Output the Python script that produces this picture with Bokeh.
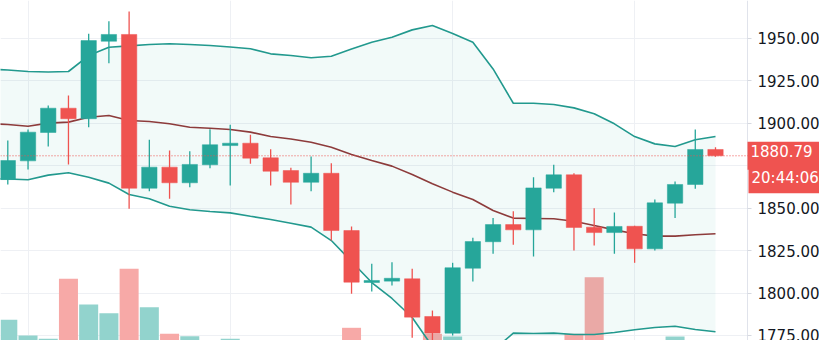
from bokeh.plotting import figure
from bokeh.models import (Range1d, SingleIntervalTicker, FixedTicker, PrintfTickFormatter,
                          Span, Label, Grid, ColumnDataSource, LinearAxis, BoxAnnotation)
from bokeh.embed import file_html
from bokeh.resources import INLINE

# ---------------- data ----------------
bar_index = list(range(36))
opens  = [1866.8, 1877.8, 1894.5, 1908.8, 1902.6, 1948.2, 1952.2, 1861.7, 1874.1, 1864.9,
          1875.5, 1886.8, 1888.2, 1879.6, 1872.1, 1865.2, 1870.5, 1836.8, 1806.2, 1807.0,
          1808.4, 1786.2, 1776.4, 1814.6, 1830.2, 1840.3, 1837.2, 1861.7, 1869.6, 1838.8,
          1835.6, 1839.3, 1826.0, 1852.9, 1863.9, 1884.5]
highs  = [1889.8, 1896.3, 1910.4, 1916.3, 1952.6, 1960.0, 1965.7, 1890.2, 1883.9, 1883.5,
          1896.4, 1899.0, 1893.1, 1884.7, 1873.7, 1880.4, 1876.4, 1839.2, 1817.2, 1818.2,
          1814.3, 1789.7, 1817.8, 1832.5, 1844.1, 1848.2, 1868.2, 1875.5, 1870.5, 1849.9,
          1847.4, 1839.6, 1855.1, 1865.7, 1896.3, 1885.8]
lows   = [1863.9, 1872.7, 1886.3, 1875.7, 1897.6, 1935.3, 1849.6, 1859.9, 1855.5, 1862.3,
          1873.5, 1863.3, 1876.1, 1863.3, 1852.1, 1859.9, 1830.9, 1799.6, 1800.9, 1804.4,
          1773.7, 1770.5, 1775.0, 1806.8, 1823.1, 1828.4, 1821.5, 1859.4, 1825.0, 1828.0,
          1823.1, 1817.8, 1825.0, 1844.1, 1861.4, 1880.2]
closes = [1878.0, 1894.7, 1908.8, 1902.6, 1948.6, 1952.2, 1861.7, 1874.1, 1864.9, 1875.7,
          1887.3, 1888.2, 1879.4, 1871.7, 1865.2, 1870.5, 1836.8, 1806.4, 1807.4, 1808.7,
          1785.8, 1776.4, 1814.9, 1830.3, 1840.3, 1837.2, 1861.9, 1869.6, 1838.6, 1835.6,
          1839.2, 1826.0, 1853.1, 1863.9, 1884.5, 1880.79]
volumes = [2070, 500, 170, 6170, 3600, 2730, 7170, 3330, 670, 430,
           0, 170, 0, 0, 0, 0, 0, 1270, 0, 0,
           0, 670, 400, 0, 0, 0, 0, 0, 670, 6330,
           0, 0, 0, 400, 0, 0]

band_index = list(range(-1, 36))
bb_upper = [1931.9, 1931.3, 1930.4, 1930.1, 1930.4, 1939.8, 1944.7, 1945.5, 1946.3, 1946.7,
            1946.3, 1945.7, 1944.8, 1943.8, 1940.8, 1939.8, 1938.5, 1939.4, 1943.6, 1947.6,
            1950.6, 1954.9, 1957.5, 1952.8, 1947.6, 1931.9, 1911.7, 1911.7, 1911.0, 1909.0,
            1905.5, 1899.6, 1892.1, 1887.8, 1886.3, 1890.2, 1892.1]
bb_basis = [1899.8, 1899.2, 1898.2, 1900.0, 1900.6, 1903.5, 1904.5, 1901.6, 1901.0, 1899.6,
            1897.6, 1897.0, 1896.3, 1894.7, 1892.1, 1890.7, 1888.8, 1885.8, 1881.5, 1878.0,
            1874.7, 1869.8, 1864.3, 1859.4, 1855.1, 1848.6, 1844.1, 1843.9, 1843.7, 1842.3,
            1839.8, 1837.2, 1834.9, 1833.5, 1833.5, 1834.3, 1834.9]
bb_lower = [1867.4, 1867.1, 1866.7, 1869.4, 1870.8, 1868.2, 1864.7, 1858.0, 1855.5, 1851.1,
            1849.0, 1848.0, 1847.2, 1845.2, 1843.3, 1841.1, 1838.8, 1830.9, 1818.6, 1806.2,
            1796.8, 1785.6, 1768.5, 1761.5, 1760.3, 1766.2, 1776.4, 1776.2, 1776.4, 1775.6,
            1775.6, 1776.8, 1778.4, 1779.7, 1780.5, 1778.5, 1777.2]

last_price = 1880.79
last_price_text = "1880.79"
countdown_text = "20:44:06"
time_grid_bars = [1, 11, 22, 31]

UP = "#26a69a"
DOWN = "#ef5350"
UP_VOL = "#92d3cd"
DOWN_VOL = "#f7a9a7"
BAND = "#22998e"
BASIS = "#8d3b3b"
GRID = "#eef0f4"

# ---------------- figure ----------------
W, H = 819, 340
BAR_PX = 20.22
x0 = -0.361
axis_x = x0 + 747 / BAR_PX          # price scale sits at pixel 747
p = figure(width=W, height=H,
           x_range=Range1d(x0, x0 + W / BAR_PX),
           y_range=Range1d(1772.07, 1972.19),
           x_axis_location=None, y_axis_location=None,
           output_backend="svg", toolbar_location=None,
           min_border=0, background_fill_color="white", border_fill_color="white")
p.outline_line_color = None
p.xgrid.visible = False
p.ygrid.visible = False
p.add_layout(Grid(dimension=1, ticker=SingleIntervalTicker(interval=25, num_minor_ticks=0),
                  grid_line_color=GRID))
p.add_layout(Grid(dimension=0, ticker=FixedTicker(ticks=time_grid_bars),
                  grid_line_color=GRID))

ax = LinearAxis(fixed_location=axis_x,
                ticker=SingleIntervalTicker(interval=25, num_minor_ticks=0),
                formatter=PrintfTickFormatter(format="%.2f"))
ax.major_label_text_font = "DejaVu Sans"
ax.major_label_text_font_size = "15px"
ax.major_label_text_color = "#131722"
ax.axis_line_color = "#e0e3eb"
ax.major_tick_line_color = "#d6d9e0"
ax.major_tick_in = 0
ax.major_tick_out = 4
ax.minor_tick_line_color = None
ax.major_label_standoff = 6
p.add_layout(ax, "right")

# volume (own scale, bottom of pane)
p.extra_y_ranges = {"vol": Range1d(0, 34000)}
vol_colors = [UP_VOL if c >= o else DOWN_VOL for o, c in zip(opens, closes)]
p.vbar(x=bar_index, top=volumes, bottom=0, width=0.94, y_range_name="vol",
       fill_color=vol_colors, line_color=None)

# bollinger bands
p.varea(x=band_index, y1=bb_lower, y2=bb_upper, fill_color=UP, fill_alpha=0.06)
p.line(band_index, bb_upper, line_color=BAND, line_width=1.6)
p.line(band_index, bb_lower, line_color=BAND, line_width=1.6)
p.line(band_index, bb_basis, line_color=BASIS, line_width=1.6)

# candles
colors = [UP if c >= o else DOWN for o, c in zip(opens, closes)]
src = ColumnDataSource(dict(
    x=bar_index, high=highs, low=lows,
    top=[max(o, c) for o, c in zip(opens, closes)],
    bottom=[min(o, c) for o, c in zip(opens, closes)],
    color=colors))
p.segment(x0="x", y0="low", x1="x", y1="high", line_color="color", line_width=1.3, source=src)
p.vbar(x="x", top="top", bottom="bottom", width=0.76, fill_color="color",
       line_color="color", line_width=0.5, source=src)

# blank price-scale strip (keeps grid lines out of it)
p.add_layout(BoxAnnotation(left=axis_x, fill_color="white", fill_alpha=1.0,
                           line_color=None, level="glyph"))

# last price line and labels
p.add_layout(Span(location=last_price, dimension="width", line_color=DOWN,
                  line_dash="1 2", line_width=1))
p.add_layout(Label(x=axis_x, y=last_price, text=last_price_text,
                   text_align="left", text_baseline="middle", text_color="white",
                   text_font="DejaVu Sans", text_font_size="15px",
                   background_fill_color=DOWN, padding=(3, 8, 3, 13)))
p.add_layout(Label(x=axis_x, y=last_price, text=countdown_text,
                   text_align="left", text_baseline="middle", text_color="white",
                   text_font="DejaVu Sans", text_font_size="15px",
                   background_fill_color=DOWN, padding=(3, 8, 3, 6),
                   x_offset=1, y_offset=-24))

open("out.html", "w").write(file_html(p, INLINE))
